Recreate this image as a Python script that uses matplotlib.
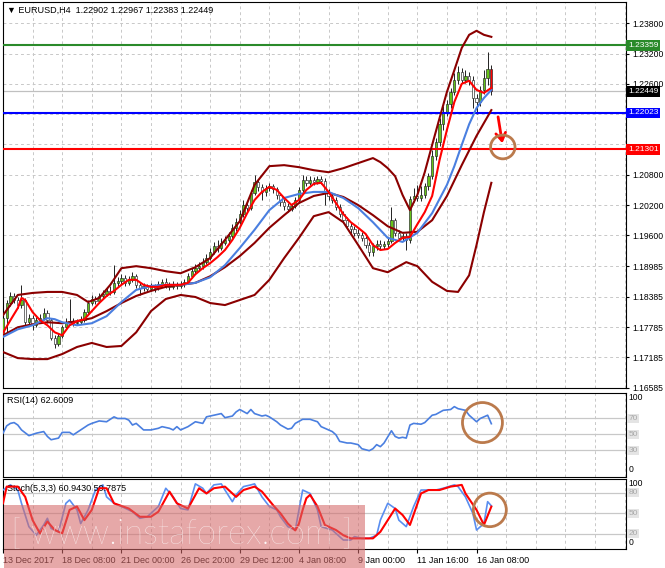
import matplotlib
matplotlib.use('Agg')
import matplotlib.pyplot as plt
from matplotlib.patches import Ellipse, Rectangle
import matplotlib.transforms as mtransforms

# ---------------- data ----------------
opens = [1.1762, 1.1796, 1.1826, 1.1840, 1.1832, 1.1822, 1.1832, 1.1788, 1.1796, 1.1782,
         1.1792, 1.1796, 1.1806, 1.1792, 1.1757, 1.1745, 1.1761, 1.1778, 1.1788, 1.1790,
         1.1786, 1.1788, 1.1792, 1.1808, 1.1826, 1.1834, 1.1830, 1.1840, 1.1844, 1.1850,
         1.1848, 1.1866, 1.1870, 1.1875, 1.1866, 1.1872, 1.1879, 1.1862, 1.1856, 1.1860,
         1.1854, 1.1860, 1.1856, 1.1864, 1.1868, 1.1862, 1.1858, 1.1864, 1.1860, 1.1864,
         1.1868, 1.1879, 1.1889, 1.1895, 1.1899, 1.1907, 1.1915, 1.1927, 1.1939, 1.1935,
         1.1945, 1.1951, 1.1959, 1.1975, 1.1986, 1.2002, 1.2020, 1.2014, 1.2044, 1.2066,
         1.2056, 1.2046, 1.2054, 1.2058, 1.2052, 1.2040, 1.2026, 1.2018, 1.2012, 1.2018,
         1.2030, 1.2050, 1.2070, 1.2064, 1.2070, 1.2066, 1.2072, 1.2068, 1.2046, 1.2038,
         1.2030, 1.2016, 1.2002, 1.1990, 1.1978, 1.1973, 1.1965, 1.1961, 1.1955, 1.1941,
         1.1927, 1.1939, 1.1943, 1.1939, 1.1943, 1.1949, 1.1990, 1.1965, 1.1955, 1.1959,
         1.1951, 1.2032, 1.2038, 1.2034, 1.2040, 1.2058, 1.2077, 1.2117, 1.2145, 1.2180,
         1.2204, 1.2220, 1.2244, 1.2268, 1.2283, 1.2268, 1.2275, 1.2268, 1.2232, 1.2224,
         1.2248, 1.2272, 1.22902]
highs = [1.1802, 1.1832, 1.1848, 1.1846, 1.1838, 1.1862, 1.1836, 1.1804, 1.1802, 1.1798,
         1.1804, 1.1816, 1.1812, 1.1796, 1.1762, 1.1767, 1.1782, 1.1796, 1.1834, 1.1796,
         1.1794, 1.1800, 1.1814, 1.1832, 1.1842, 1.1840, 1.1846, 1.1852, 1.1856, 1.1860,
         1.1901, 1.1877, 1.1883, 1.1881, 1.1879, 1.1887, 1.1883, 1.1868, 1.1866, 1.1864,
         1.1866, 1.1864, 1.1870, 1.1874, 1.1875, 1.1868, 1.1870, 1.1868, 1.1870, 1.1874,
         1.1885, 1.1895, 1.1903, 1.1907, 1.1915, 1.1923, 1.1935, 1.1947, 1.1951, 1.1955,
         1.1959, 1.1967, 1.1982, 1.1994, 1.2010, 1.2030, 1.2026, 1.2050, 1.2079, 1.2070,
         1.2062, 1.2060, 1.2064, 1.2062, 1.2056, 1.2044, 1.2032, 1.2024, 1.2024, 1.2036,
         1.2056, 1.2079, 1.2077, 1.2077, 1.2075, 1.2077, 1.2077, 1.2074, 1.2052, 1.2044,
         1.2036, 1.2022, 1.2008, 1.1996, 1.1984, 1.1978, 1.1973, 1.1967, 1.1959, 1.1947,
         1.1945, 1.1951, 1.1951, 1.1949, 1.1957, 1.2016, 1.1994, 1.1971, 1.1965, 1.1965,
         1.2038, 1.2054, 1.2060, 1.2058, 1.2064, 1.2083, 1.2129, 1.2153, 1.2192, 1.2216,
         1.2228, 1.2252, 1.2281, 1.2295, 1.2291, 1.2287, 1.2283, 1.2275, 1.2240, 1.2256,
         1.2287, 1.2323, 1.22967]
lows = [1.1757, 1.1765, 1.1820, 1.1826, 1.1816, 1.1816, 1.1782, 1.1780, 1.1772, 1.1778,
        1.1788, 1.1792, 1.1786, 1.1753, 1.1737, 1.1741, 1.1757, 1.1774, 1.1782, 1.1780,
        1.1782, 1.1784, 1.1788, 1.1804, 1.1822, 1.1824, 1.1826, 1.1836, 1.1840, 1.1842,
        1.1844, 1.1860, 1.1864, 1.1860, 1.1862, 1.1868, 1.1856, 1.1842, 1.1850, 1.1848,
        1.1850, 1.1848, 1.1852, 1.1858, 1.1856, 1.1852, 1.1854, 1.1854, 1.1856, 1.1858,
        1.1864, 1.1875, 1.1885, 1.1889, 1.1893, 1.1903, 1.1911, 1.1923, 1.1927, 1.1931,
        1.1941, 1.1945, 1.1955, 1.1969, 1.1982, 1.1996, 1.2006, 1.2010, 1.2040, 1.2048,
        1.2030, 1.2038, 1.2048, 1.2044, 1.2032, 1.2018, 1.2010, 1.2006, 1.2008, 1.2014,
        1.2024, 1.2046, 1.2058, 1.2060, 1.2060, 1.2062, 1.2062, 1.2020, 1.2030, 1.2024,
        1.2010, 1.1996, 1.1984, 1.1973, 1.1965, 1.1959, 1.1955, 1.1949, 1.1935, 1.1919,
        1.1919, 1.1931, 1.1933, 1.1933, 1.1937, 1.1945, 1.1959, 1.1949, 1.1949, 1.1931,
        1.1945, 1.2026, 1.2028, 1.2028, 1.2034, 1.2050, 1.2072, 1.2109, 1.2137, 1.2169,
        1.2196, 1.2212, 1.2238, 1.2260, 1.2262, 1.2262, 1.2258, 1.2212, 1.2200, 1.2216,
        1.2240, 1.2258, 1.22383]
closes = [1.1796, 1.1826, 1.1840, 1.1832, 1.1822, 1.1832, 1.1788, 1.1796, 1.1782, 1.1792,
          1.1796, 1.1806, 1.1792, 1.1757, 1.1745, 1.1761, 1.1778, 1.1788, 1.1790, 1.1786,
          1.1788, 1.1792, 1.1808, 1.1826, 1.1834, 1.1830, 1.1840, 1.1844, 1.1850, 1.1848,
          1.1866, 1.1870, 1.1875, 1.1866, 1.1872, 1.1879, 1.1862, 1.1856, 1.1860, 1.1854,
          1.1860, 1.1856, 1.1864, 1.1868, 1.1862, 1.1858, 1.1864, 1.1860, 1.1864, 1.1868,
          1.1879, 1.1889, 1.1895, 1.1899, 1.1907, 1.1915, 1.1927, 1.1939, 1.1935, 1.1945,
          1.1951, 1.1959, 1.1975, 1.1986, 1.2002, 1.2020, 1.2014, 1.2044, 1.2066, 1.2056,
          1.2046, 1.2054, 1.2058, 1.2052, 1.2040, 1.2026, 1.2018, 1.2012, 1.2018, 1.2030,
          1.2050, 1.2070, 1.2064, 1.2070, 1.2066, 1.2072, 1.2068, 1.2046, 1.2038, 1.2030,
          1.2016, 1.2002, 1.1990, 1.1978, 1.1973, 1.1965, 1.1961, 1.1955, 1.1941, 1.1927,
          1.1939, 1.1943, 1.1939, 1.1943, 1.1949, 1.1990, 1.1965, 1.1955, 1.1959, 1.1951,
          1.2032, 1.2038, 1.2034, 1.2040, 1.2058, 1.2077, 1.2117, 1.2145, 1.2180, 1.2204,
          1.2220, 1.2244, 1.2268, 1.2283, 1.2268, 1.2275, 1.2268, 1.2232, 1.2224, 1.2248,
          1.2272, 1.2290, 1.22449]

# Bollinger bands
upper_bars = [0, 4, 8, 12, 16, 20, 23, 26, 29, 32, 36, 40, 44, 48, 52, 56, 60, 64, 68, 72,
              76, 80, 84, 88, 92, 96, 100, 102, 104, 106, 108, 110, 112, 114, 116, 118, 120,
              122, 124, 126, 128, 130, 132]
upper_vals = [1.1802, 1.1842, 1.1846, 1.1848, 1.1848, 1.1842, 1.1828, 1.1836, 1.1862, 1.1895,
              1.1899, 1.1895, 1.1889, 1.1885, 1.1897, 1.1915, 1.1951, 1.1988, 1.2060, 1.2097,
              1.2099, 1.2095, 1.2089, 1.2085, 1.2093, 1.2103, 1.2113, 1.2105, 1.2093, 1.2077,
              1.2040, 1.2010, 1.2040, 1.2085, 1.2139, 1.2192, 1.2244, 1.2287, 1.2331, 1.2357,
              1.2365, 1.2357, 1.2353]
middle_bars = [0, 4, 8, 12, 16, 20, 24, 28, 32, 36, 40, 44, 48, 52, 56, 60, 64, 68, 72, 76,
               80, 84, 88, 92, 96, 100, 104, 108, 112, 116, 120, 124, 128, 132]
middle_vals = [1.1762, 1.1778, 1.1784, 1.1788, 1.1786, 1.1790, 1.1796, 1.1810, 1.1826, 1.1840,
               1.1850, 1.1858, 1.1862, 1.1866, 1.1879, 1.1897, 1.1919, 1.1945, 1.1975, 1.2000,
               1.2024, 1.2038, 1.2044, 1.2036, 1.2020, 1.2000, 1.1978, 1.1965, 1.1967, 1.1990,
               1.2038, 1.2099, 1.2157, 1.2208]
lower_bars = [0, 4, 8, 12, 16, 20, 24, 28, 32, 36, 40, 44, 48, 52, 56, 60, 64, 68, 72, 76,
              80, 84, 88, 92, 96, 100, 104, 106, 109, 112, 116, 120, 123, 126, 128, 130, 132]
lower_vals = [1.1729, 1.1717, 1.1715, 1.1715, 1.1725, 1.1739, 1.1747, 1.1739, 1.1741, 1.1768,
              1.1810, 1.1834, 1.1842, 1.1838, 1.1826, 1.1822, 1.1832, 1.1842, 1.1872, 1.1915,
              1.1955, 1.1998, 1.2006, 1.1986, 1.1941, 1.1895, 1.1887, 1.1895, 1.1907, 1.1899,
              1.1868, 1.1850, 1.1848, 1.1881, 1.1941, 1.2006, 1.2064]
# Moving averages
blue_bars = [0, 4, 8, 12, 14, 16, 20, 24, 28, 32, 36, 40, 44, 48, 52, 56, 60, 64, 68, 72,
             76, 80, 84, 88, 92, 96, 100, 104, 108, 112, 116, 120, 122, 124, 126, 128, 130, 132]
blue_vals = [1.1759, 1.1774, 1.1782, 1.1796, 1.1794, 1.1788, 1.1782, 1.1786, 1.1800, 1.1828,
             1.1852, 1.1860, 1.1862, 1.1862, 1.1866, 1.1877, 1.1901, 1.1935, 1.1971, 1.2010,
             1.2034, 1.2042, 1.2046, 1.2046, 1.2034, 1.2014, 1.1986, 1.1955, 1.1947, 1.1965,
             1.2004, 1.2060, 1.2097, 1.2139, 1.2180, 1.2212, 1.2232, 1.2248]
red_bars = [0, 2, 4, 5, 6, 8, 10, 12, 14, 16, 18, 20, 22, 24, 26, 28, 30, 32, 34, 36, 38, 40,
            42, 44, 46, 48, 50, 52, 54, 56, 58, 60, 62, 64, 66, 68, 70, 72, 74, 76, 78, 80,
            82, 84, 86, 88, 90, 92, 94, 96, 98, 100, 102, 104, 106, 108, 110, 112, 114, 116,
            118, 120, 122, 124, 126, 128, 130, 132]
red_vals = [1.1767, 1.1792, 1.1816, 1.1836, 1.1832, 1.1808, 1.1792, 1.1782, 1.1768, 1.1762,
            1.1782, 1.1790, 1.1794, 1.1810, 1.1826, 1.1840, 1.1850, 1.1862, 1.1872, 1.1872,
            1.1862, 1.1858, 1.1858, 1.1862, 1.1862, 1.1862, 1.1866, 1.1883, 1.1895, 1.1905,
            1.1917, 1.1931, 1.1951, 1.1975, 1.2004, 1.2030, 1.2046, 1.2056, 1.2050, 1.2034,
            1.2020, 1.2030, 1.2050, 1.2062, 1.2064, 1.2046, 1.2024, 1.2002, 1.1986, 1.1975,
            1.1963, 1.1941, 1.1931, 1.1933, 1.1945, 1.1955, 1.1957, 1.1982, 1.2006, 1.2038,
            1.2109, 1.2169, 1.2224, 1.2260, 1.2266, 1.2248, 1.2242, 1.2252]

# RSI(14)
rsi_bars = [0, 1, 2, 3, 4, 5, 7, 9, 11, 12, 13, 15, 16, 18, 19, 21, 23, 24, 26, 28,
            30, 31, 33, 34, 35, 36, 38, 40, 42, 43, 45, 46, 47, 48, 50, 52, 54, 55, 57, 59,
            60, 62, 63, 64, 66, 67, 68, 70, 71, 72, 74, 75, 77, 78, 79, 81, 83, 85, 86, 88,
            89, 90, 91, 93, 94, 96, 97, 99, 100, 101, 102, 103, 105, 106, 107, 108, 109, 110,
            111, 113, 114, 116, 117, 119, 121, 122, 123, 125, 126, 128, 129, 131, 132]
rsi_vals = [51, 60, 63, 64, 61, 55, 48, 51, 53, 47, 43, 45, 52, 52, 49, 55, 61, 63, 66, 65,
            71, 69, 69, 67, 61, 63, 55, 55, 57, 59, 57, 55, 59, 55, 59, 65, 63, 71, 73, 75,
            70, 72, 77, 80, 75, 80, 75, 72, 73, 71, 65, 61, 56, 57, 63, 68, 68, 65, 59, 55,
            53, 49, 41, 39, 39, 37, 32, 29.6, 32, 37, 34.5, 39, 54, 47, 45, 46, 45, 61,
            63, 62, 64, 73, 74, 79, 80, 83.5, 81, 79, 73, 65, 69, 73, 62.6]

# Stochastic(5,3,3)
stoch_main_bars = [0, 2, 4, 5, 7, 9, 11, 12, 13, 15, 17, 18, 20, 21, 23, 25, 27, 28, 30, 32,
                   35, 37, 39, 42, 44, 46, 48, 50, 52, 54, 55, 57, 59, 60, 62, 63, 65, 67, 68, 70,
                   72, 74, 75, 77, 79, 80, 81, 83, 85, 86, 89, 90, 92, 94, 95, 97, 99, 101, 102, 104,
                   106, 107, 109, 111, 113, 115, 117, 119, 122, 123, 125, 127, 128, 130, 131, 132]
stoch_main_vals = [84, 91.5, 84, 64.6, 30.5, 18, 33, 42.7, 28, 23, 64.6, 69.5, 55, 35, 55, 84, 91.5, 74, 64.6, 60,
                   52.4, 42.7, 45, 60, 86.6, 74, 57, 55, 93, 86.6, 79, 91.5, 93, 84, 67, 77, 89, 91.5, 93, 74,
                   60, 55, 45, 30.5, 25.6, 55, 84, 79, 55, 30.5, 25.6, 20.7, 11, 11, 16, 13.4, 13.4, 18, 40, 64.6,
                   57, 40, 30.5, 60, 84, 84, 84, 86.6, 91.5, 89, 74, 50, 25.6, 35, 67, 60.9]
stoch_sig_bars = [0, 1, 4, 6, 8, 10, 12, 14, 16, 18, 20, 22, 24, 26, 28, 30, 34, 37, 40, 42,
                  45, 47, 50, 53, 55, 57, 60, 63, 65, 68, 70, 73, 75, 77, 79, 80, 81, 82, 83, 85,
                  87, 90, 92, 94, 97, 100, 102, 104, 106, 108, 110, 113, 115, 118, 121, 124, 125, 128, 130, 132]
stoch_sig_vals = [64.6, 89, 89, 74, 40, 20.7, 38, 25.6, 20.7, 55, 60, 40, 55, 86.6, 86.6, 64.6, 57, 45, 45, 52.4,
                  81.7, 64.6, 57, 86.6, 79, 86.6, 89, 74, 84, 89, 81.7, 62, 50, 35, 25, 35, 55, 72, 77, 60,
                  33, 25.6, 18, 13.4, 13.4, 13.4, 23, 40, 57, 47.6, 33, 79, 84, 84, 89, 91.5, 79, 55, 33, 59.8]

price_ticks = [1.23800, 1.23200, 1.22600, 1.22000, 1.21400, 1.20800, 1.20200, 1.19600,
               1.18985, 1.18385, 1.17785, 1.17185, 1.16585]
# labels of 1.22000 and 1.21400 are covered by the level boxes in the reference
hidden_tick_labels = [1.22000, 1.21400]
time_labels = ['13 Dec 2017', '18 Dec 08:00', '21 Dec 00:00', '26 Dec 20:00', '29 Dec 12:00',
               '4 Jan 08:00', '9 Jan 00:00', '11 Jan 16:00', '16 Jan 08:00']
time_label_bars = [0, 16, 32, 48, 64, 80, 96, 112, 128]

resistance = 1.23359
support1 = 1.22023
support2 = 1.21301
last_close = 1.22449
header = '\u25BC EURUSD,H4  1.22902 1.22967 1.22383 1.22449'
rsi_header = 'RSI(14) 62.6009'
stoch_header = 'Stoch(5,3,3) 60.9430 59.7875'

# ---------------- figure ----------------
W, H = 665, 568
fig = plt.figure(figsize=(W / 100, H / 100), dpi=100)
fig.patch.set_facecolor('white')
FONT = ['Liberation Sans', 'DejaVu Sans']
plt.rcParams['font.family'] = FONT

def fx(px):
    return px / W

def fy(py):
    return 1 - py / H

ax = fig.add_axes([fx(3), fy(388), fx(623), 386 / H])
ax_r = fig.add_axes([fx(3), fy(477), fx(623), 84.5 / H])
ax_s = fig.add_axes([fx(3), fy(549), fx(623), 70 / H])

XMAX = 168.4
GRID = '#c8c8c8'
for a in (ax, ax_r, ax_s):
    a.set_xlim(0, XMAX)
    for sp in a.spines.values():
        sp.set_color('black')
        sp.set_linewidth(0.8)
    for b in range(8, 169, 8):
        a.axvline(b, color=GRID, lw=0.7, ls=(0, (3, 3)), zorder=0)

# ---- main panel ----
ax.set_ylim(1.16578, 1.2422)
for p in price_ticks:
    ax.axhline(p, color=GRID, lw=0.7, ls=(0, (3, 3)), zorder=0)
ax.yaxis.tick_right()
ax.set_yticks(price_ticks)
ax.set_yticklabels(['' if p in hidden_tick_labels else '%.5f' % p for p in price_ticks])
ax.tick_params(axis='y', labelsize=6.2, length=2.5, pad=2, direction='out')
ax.set_xticks([])

n = len(closes)
bars = list(range(n))
body_bottom = [min(o, c) for o, c in zip(opens, closes)]
body_h = [max(abs(c - o), 0.00003) for o, c in zip(opens, closes)]
body_col = []
for i, (o, c) in enumerate(zip(opens, closes)):
    if i == n - 1:
        body_col.append('#ff0000')
    elif c >= o:
        body_col.append('#66c21a')
    else:
        body_col.append('white')
ax.vlines(bars, lows, highs, color='#222222', lw=0.7, zorder=2)
ax.bar(bars, body_h, bottom=body_bottom, width=0.62, color=body_col,
       edgecolor='#222222', linewidth=0.45, zorder=3)

ax.axhline(last_close, color='#c0c0c0', lw=0.9, zorder=1)
ax.axhline(resistance, color='#2a8a2a', lw=1.5, zorder=4)
ax.axhline(support1, color='#0000ff', lw=1.5, zorder=4)
ax.axhline(support2, color='#ff0000', lw=1.5, zorder=4)

ax.plot(upper_bars, upper_vals, color='#8b0000', lw=1.5, zorder=5)
ax.plot(middle_bars, middle_vals, color='#8b0000', lw=1.5, zorder=5)
ax.plot(lower_bars, lower_vals, color='#8b0000', lw=1.5, zorder=5)
ax.plot(blue_bars, blue_vals, color='#4a7fe0', lw=1.5, zorder=5)
ax.plot(red_bars, red_vals, color='#ff0000', lw=1.5, zorder=6)

tr = mtransforms.blended_transform_factory(ax.transAxes, ax.transData)
for val, col in ((resistance, '#2a8a2a'), (last_close, 'black'),
                 (support1, '#0000ff'), (support2, '#ff0000')):
    ax.text(1.003, val, '%.5f' % val, transform=tr, fontsize=6, color='white',
            va='center', ha='left', zorder=10, clip_on=False,
            bbox=dict(boxstyle='square,pad=0.2', fc=col, ec='none'))

ax.text(0.006, 0.979, header, transform=ax.transAxes, fontsize=6.5,
        va='center', ha='left', family=FONT)

# annotation: arrow and target circle
ax.annotate('', xy=(135.1, 1.2137), xytext=(133.7, 1.2200),
            arrowprops=dict(arrowstyle='->,head_length=0.55,head_width=0.35',
                            color='#ff0000', lw=2), zorder=8)
ax.add_patch(Ellipse((135.1, 1.2135), 6.6, 0.0047, fill=False,
                     ec='#bb7a4c', lw=2, zorder=8))

# ---- RSI panel ----
ax_r.set_ylim(-2.6, 100.8)
ax_r.set_xticks([])
ax_r.set_yticks([])
for lv in (70, 50, 30):
    ax_r.axhline(lv, color='#c8c8c8', lw=0.9, zorder=1)
ax_r.plot(rsi_bars, rsi_vals, color='#4a7fe0', lw=1.2, zorder=3)
trr = mtransforms.blended_transform_factory(ax_r.transAxes, ax_r.transData)
for lab, pos, grey in (('100', 94.5, False), ('70', 69.5, True), ('50', 50, True),
                       ('30', 30, True), ('0', 7, False)):
    if grey:
        ax_r.text(1.004, pos, lab, transform=trr, fontsize=6, color='#a8a8a8', va='center',
                  ha='left', clip_on=False,
                  bbox=dict(boxstyle='square,pad=0.12', fc='#e4e4e4', ec='none'))
    else:
        ax_r.text(1.004, pos, lab, transform=trr, fontsize=6.2, color='black', va='center',
                  ha='left', clip_on=False)
ax_r.text(0.006, 0.9, rsi_header, transform=ax_r.transAxes, fontsize=6.5,
          va='center', ha='left')
ax_r.add_patch(Ellipse((129.6, 64), 10.8, 49, fill=False, ec='#bb7a4c', lw=2, zorder=6))

# ---- Stochastic panel ----
ax_s.set_ylim(-2.1, 100.1)
ax_s.set_yticks([])
for lv in (80, 50, 20):
    ax_s.axhline(lv, color='#c8c8c8', lw=0.9, zorder=1)
ax_s.plot(stoch_main_bars, stoch_main_vals, color='#5a8ef0', lw=1.2, zorder=3)
ax_s.plot(stoch_sig_bars, stoch_sig_vals, color='#ff0000', lw=1.5, zorder=4)
trs = mtransforms.blended_transform_factory(ax_s.transAxes, ax_s.transData)
for lab, pos, grey in (('100', 93, False), ('80', 80, True), ('50', 50, True),
                       ('20', 20, True), ('0', 7, False)):
    if grey:
        ax_s.text(1.004, pos, lab, transform=trs, fontsize=6, color='#a8a8a8', va='center',
                  ha='left', clip_on=False,
                  bbox=dict(boxstyle='square,pad=0.12', fc='#e4e4e4', ec='none'))
    else:
        ax_s.text(1.004, pos, lab, transform=trs, fontsize=6.2, color='black', va='center',
                  ha='left', clip_on=False)
ax_s.text(0.006, 0.87, stoch_header, transform=ax_s.transAxes, fontsize=6.5,
          va='center', ha='left')
ax_s.add_patch(Ellipse((131.6, 55), 8.9, 49, fill=False, ec='#bb7a4c', lw=2, zorder=6))

ax_s.set_xticks(time_label_bars)
ax_s.set_xticklabels(time_labels, ha='left', fontsize=6.5)
ax_s.tick_params(axis='x', length=3, pad=2)

# ---- watermark ----
fig.patches.append(Rectangle((fx(4), 0), fx(361), 63 / H, transform=fig.transFigure,
                             fc='#d46a6a', ec='none', alpha=0.58, zorder=20))
fig.text(fx(182), fy(534), '[ www.instaforex.com ]', fontsize=25, color='white',
         alpha=0.92, ha='center', va='center', family=['Lato', 'DejaVu Sans'],
         fontweight='light', zorder=21)

fig.savefig('out.png', dpi=100)
